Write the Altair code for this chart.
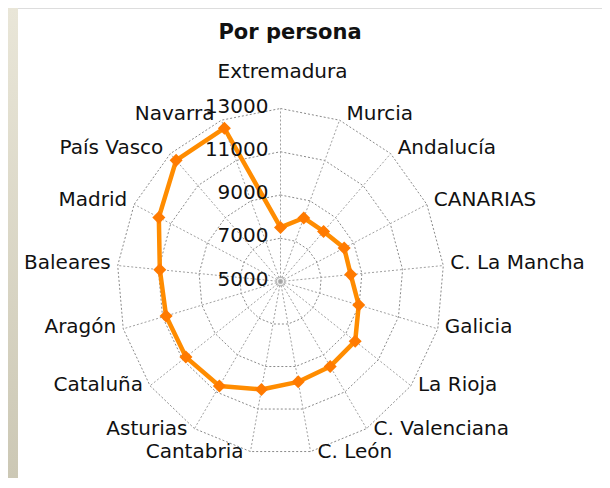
import math
import altair as alt
import pandas as pd

# ---- data ----
categories = ["Extremadura", "Murcia", "Andalucía", "CANARIAS", "C. La Mancha",
              "Galicia", "La Rioja", "C. Valenciana", "C. León", "Cantabria",
              "Asturias", "Cataluña", "Aragón", "Baleares", "Madrid",
              "País Vasco", "Navarra"]
values = [7500, 8150, 8130, 8480, 8450, 8980, 9580, 9620, 9720, 10080,
          10680, 10800, 10820, 10930, 11650, 12580, 12600]
tick_values = [5000, 7000, 9000, 11000, 13000]
title_text = ["Por persona"]

# ---- layout constants ----
W, H = 594, 470
CX, CY = 272.5, 273.5      # centre in plot pixels
RX, RY = 163.5, 173.0      # outer ring radii in pixels
RMIN, RMAX = tick_values[0], tick_values[-1]
n = len(categories)

xs = alt.Scale(domain=[-CX / RX, (W - CX) / RX], nice=False, zero=False)
ys = alt.Scale(domain=[-(H - CY) / RY, CY / RY], nice=False, zero=False)


def ang(i):
    return 2 * math.pi * i / n


def norm(v):
    return (v - RMIN) / (RMAX - RMIN)


# series polygon (closed)
series_rows = []
for k in range(n + 1):
    i = k % n
    r = norm(values[i])
    series_rows.append({"k": k, "cat": categories[i], "value": values[i],
                        "x": r * math.sin(ang(i)), "y": r * math.cos(ang(i))})
series_df = pd.DataFrame(series_rows)
points_df = series_df.iloc[:n]

# grid rings
ring_rows = []
for tv in tick_values[1:]:
    r = norm(tv)
    for k in range(n + 1):
        i = k % n
        ring_rows.append({"level": tv, "k": k,
                          "x": r * math.sin(ang(i)), "y": r * math.cos(ang(i))})
rings_df = pd.DataFrame(ring_rows)

# spokes
spokes_df = pd.DataFrame([{"x0": 0.0, "y0": 0.0,
                           "x1": math.sin(ang(i)), "y1": math.cos(ang(i))}
                          for i in range(n)])

# radial tick labels
ticks_df = pd.DataFrame([{"tx": 0.0, "ty": norm(tv), "label": str(tv)}
                         for tv in tick_values])

# category labels
lab_rows = []
for i, c in enumerate(categories):
    s, co = math.sin(ang(i)), math.cos(ang(i))
    if abs(s) < 0.01:
        side = "top"
        ly = 1.21
    else:
        side = "right" if s > 0 else "left"
        ly = co * 1.02 + 0.015
    lab_rows.append({"cat": c, "lx": s, "ly": ly, "side": side})
labels_df = pd.DataFrame(lab_rows)

X = lambda f: alt.X(f, scale=xs, axis=None)
Y = lambda f: alt.Y(f, scale=ys, axis=None)

FONT = "DejaVu Sans"

one = pd.DataFrame({"t": title_text})

strip = alt.Chart(one).mark_rect(
    color=alt.LinearGradient(
        gradient="linear",
        stops=[alt.GradientStop(color="#e9e6d8", offset=0),
               alt.GradientStop(color="#ccc8b5", offset=1)],
        x1=0, x2=0, y1=0, y2=1)
).encode(x=alt.value(0), x2=alt.value(10), y=alt.value(0), y2=alt.value(H))

title = alt.Chart(one).mark_text(
    align="center", baseline="middle", font=FONT, fontSize=21,
    fontWeight="bold", color="#111111"
).encode(x=alt.value(282), y=alt.value(25), text="t:N")

rings = alt.Chart(rings_df).mark_line(
    color="#8a8a8a", strokeDash=[2, 2], strokeWidth=1
).encode(x=X("x:Q"), y=Y("y:Q"), detail="level:N", order="k:Q")

spokes = alt.Chart(spokes_df).mark_rule(
    color="#a0a0a0", strokeDash=[2, 2], strokeWidth=1
).encode(x=X("x0:Q"), y=Y("y0:Q"), x2="x1:Q", y2="y1:Q")

centre_df = pd.DataFrame({"x": [0.0], "y": [0.0]})
centre_outer = alt.Chart(centre_df).mark_point(
    shape="circle", filled=False, color="#b0b0b0", size=70, strokeWidth=1.5
).encode(x=X("x:Q"), y=Y("y:Q"))
centre_inner = alt.Chart(centre_df).mark_point(
    shape="circle", filled=False, color="#b0b0b0", size=15, strokeWidth=1.5
).encode(x=X("x:Q"), y=Y("y:Q"))

line = alt.Chart(series_df).mark_line(
    color="#ff8c00", strokeWidth=4.5, strokeJoin="round"
).encode(x=X("x:Q"), y=Y("y:Q"), order="k:Q")

diamonds = alt.Chart(points_df).mark_point(
    shape="diamond", filled=True, color="#ff7a00", size=170, opacity=1
).encode(x=X("x:Q"), y=Y("y:Q"))

tick_labels = alt.Chart(ticks_df).mark_text(
    align="right", baseline="middle", dx=-12, dy=-2,
    font=FONT, fontSize=20, color="#111111"
).encode(x=X("tx:Q"), y=Y("ty:Q"), text="label:N")

lab_top = alt.Chart(labels_df).transform_filter("datum.side == 'top'").mark_text(
    align="center", baseline="middle", dx=2, font=FONT, fontSize=20, color="#111111"
).encode(x=X("lx:Q"), y=Y("ly:Q"), text="cat:N")
lab_right = alt.Chart(labels_df).transform_filter("datum.side == 'right'").mark_text(
    align="left", baseline="middle", dx=7, font=FONT, fontSize=20, color="#111111"
).encode(x=X("lx:Q"), y=Y("ly:Q"), text="cat:N")
lab_left = alt.Chart(labels_df).transform_filter("datum.side == 'left'").mark_text(
    align="right", baseline="middle", dx=-7, font=FONT, fontSize=20, color="#111111"
).encode(x=X("lx:Q"), y=Y("ly:Q"), text="cat:N")

chart = alt.layer(
    strip, rings, spokes, centre_outer, centre_inner, line, diamonds,
    tick_labels, lab_top, lab_right, lab_left, title
).properties(
    width=W, height=H,
    autosize="none",
    padding=0,
).configure_view(stroke="transparent", strokeWidth=0).configure(background="white")

chart.save("out.html", embed_options={"renderer": "svg", "actions": False})
